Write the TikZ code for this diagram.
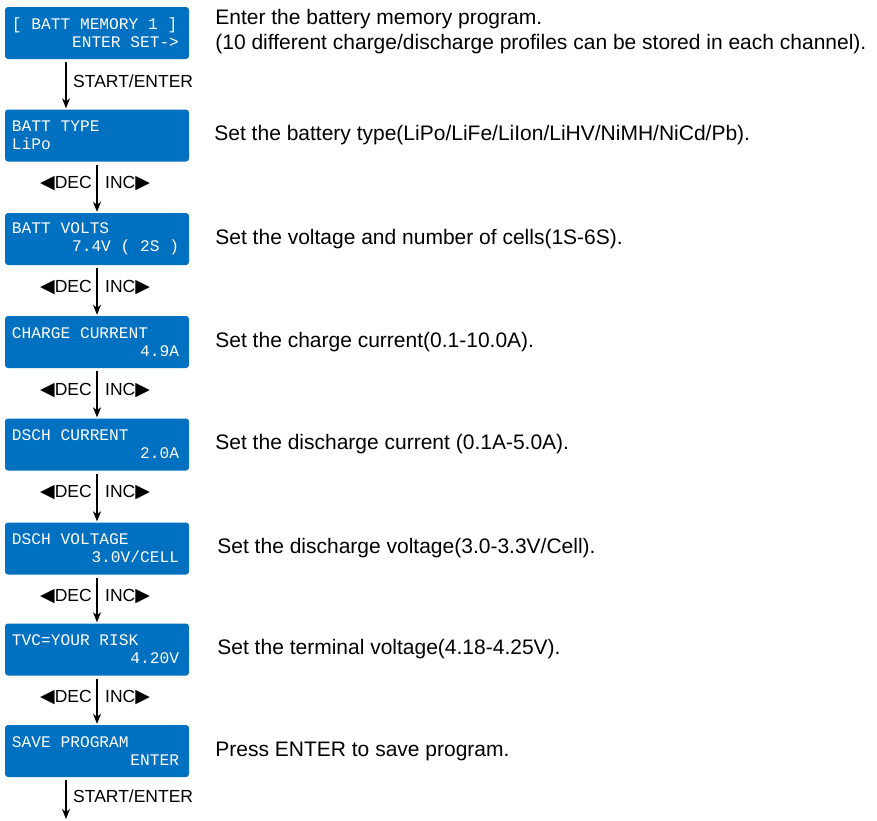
\documentclass[tikz,border=0pt]{standalone}
\usepackage{fontspec}
\setmainfont{Liberation Sans}
\newfontfamily\lcdfont{Liberation Mono}
\newfontfamily\symfont{DejaVu Sans}
\usetikzlibrary{arrows.meta,positioning}
\definecolor{lcdblue}{RGB}{0,112,192}
\newcommand{\lcdright}[1]{\makebox[\hsize][r]{#1\hspace{3pt}}}
\newcommand{\decinc}{{\symfont\fontsize{19}{19}\selectfont ◀}DEC}
\newcommand{\incdec}{INC{\symfont\fontsize{19}{19}\selectfont ▶}}

\tikzset{
  lcd/.style={fill=lcdblue, rounded corners=3pt, text=white, minimum width=184pt,
    minimum height=52pt, text width=170pt, inner xsep=7pt, inner ysep=0pt, align=flush left,
    font=\lcdfont\fontsize{16.2}{18}\selectfont,
    execute at begin node={\spaceskip=0.6em\relax\xspaceskip=0.6em\relax}},
  desc/.style={font=\fontsize{21}{25}\selectfont, inner sep=0pt, align=left},
  key/.style={font=\fontsize{17.5}{20}\selectfont, inner sep=0pt},
  flow/.style={-{Stealth[length=10pt,width=8pt,inset=3pt]}, line width=1.2pt,
    shorten <=3pt, shorten >=1pt}
}

\begin{document}
\begin{tikzpicture}[x=1pt,y=-1pt]
  \useasboundingbox (0,0) rectangle (877,820);

	 % display screens
  \node[lcd] (b1) at (97,33) {[ BATT MEMORY 1 ]\\\lcdright{ENTER SET->}};
  \node[lcd] (b2) at (97,135.5) {BATT TYPE\\LiPo};
  \node[lcd] (b3) at (97,239) {BATT VOLTS\\\lcdright{7.4V ( 2S )}};
  \node[lcd] (b4) at (97,342) {CHARGE CURRENT\\\lcdright{4.9A}};
  \node[lcd] (b5) at (97,444.5) {DSCH CURRENT\\\lcdright{2.0A}};
  \node[lcd] (b6) at (97,548.5) {DSCH VOLTAGE\\\lcdright{3.0V/CELL}};
  \node[lcd] (b7) at (97,649.5) {TVC=YOUR RISK\\\lcdright{4.20V}};
  \node[lcd] (b8) at (97,751) {SAVE PROGRAM\\\lcdright{ENTER}};

	 % explanations
  \node[desc, right=26pt of b1, yshift=1.5pt] (t1) {Enter the battery memory program.\\(10 different charge/discharge profiles can be stored in each channel).};
  \node[desc, right=25pt of b2] (t2) {Set the battery type(LiPo/LiFe/LiIon/LiHV/NiMH/NiCd/Pb).};
  \node[desc, right=26pt of b3] (t3) {Set the voltage and number of cells(1S-6S).};
  \node[desc, right=26pt of b4] (t4) {Set the charge current(0.1-10.0A).};
  \node[desc, right=26pt of b5] (t5) {Set the discharge current (0.1A-5.0A).};
  \node[desc, right=28pt of b6] (t6) {Set the discharge voltage(3.0-3.3V/Cell).};
  \node[desc, right=28pt of b7] (t7) {Set the terminal voltage(4.18-4.25V).};
  \node[desc, right=26pt of b8] (t8) {Press ENTER to save program.};

	 % start/enter steps
  \draw[flow] ([xshift=-31pt]b1.south) -- ([xshift=-31pt]b2.north);
  \node[key, anchor=west] (s1) at ([xshift=-24pt,yshift=-22pt]b1.south) {START/ENTER};

  \coordinate (out) at (66,820);
  \draw[flow] ([xshift=-31pt]b8.south) -- (out);
  \node[key, anchor=west] (s2) at ([xshift=-24pt,yshift=-19pt]b8.south) {START/ENTER};

	 % dec/inc steps
  \foreach \a/\b in {b2/b3,b3/b4,b4/b5,b5/b6,b6/b7,b7/b8}{
    \draw[flow] (\a.south) -- (\b.north);
    \node[key, anchor=east] (\a-dec) at ([xshift=-5pt,yshift=-22pt]\a.south) {\decinc};
    \node[key, anchor=west] (\a-inc) at ([xshift=8pt,yshift=-22pt]\a.south) {\incdec};
  }

\end{tikzpicture}
\end{document}
